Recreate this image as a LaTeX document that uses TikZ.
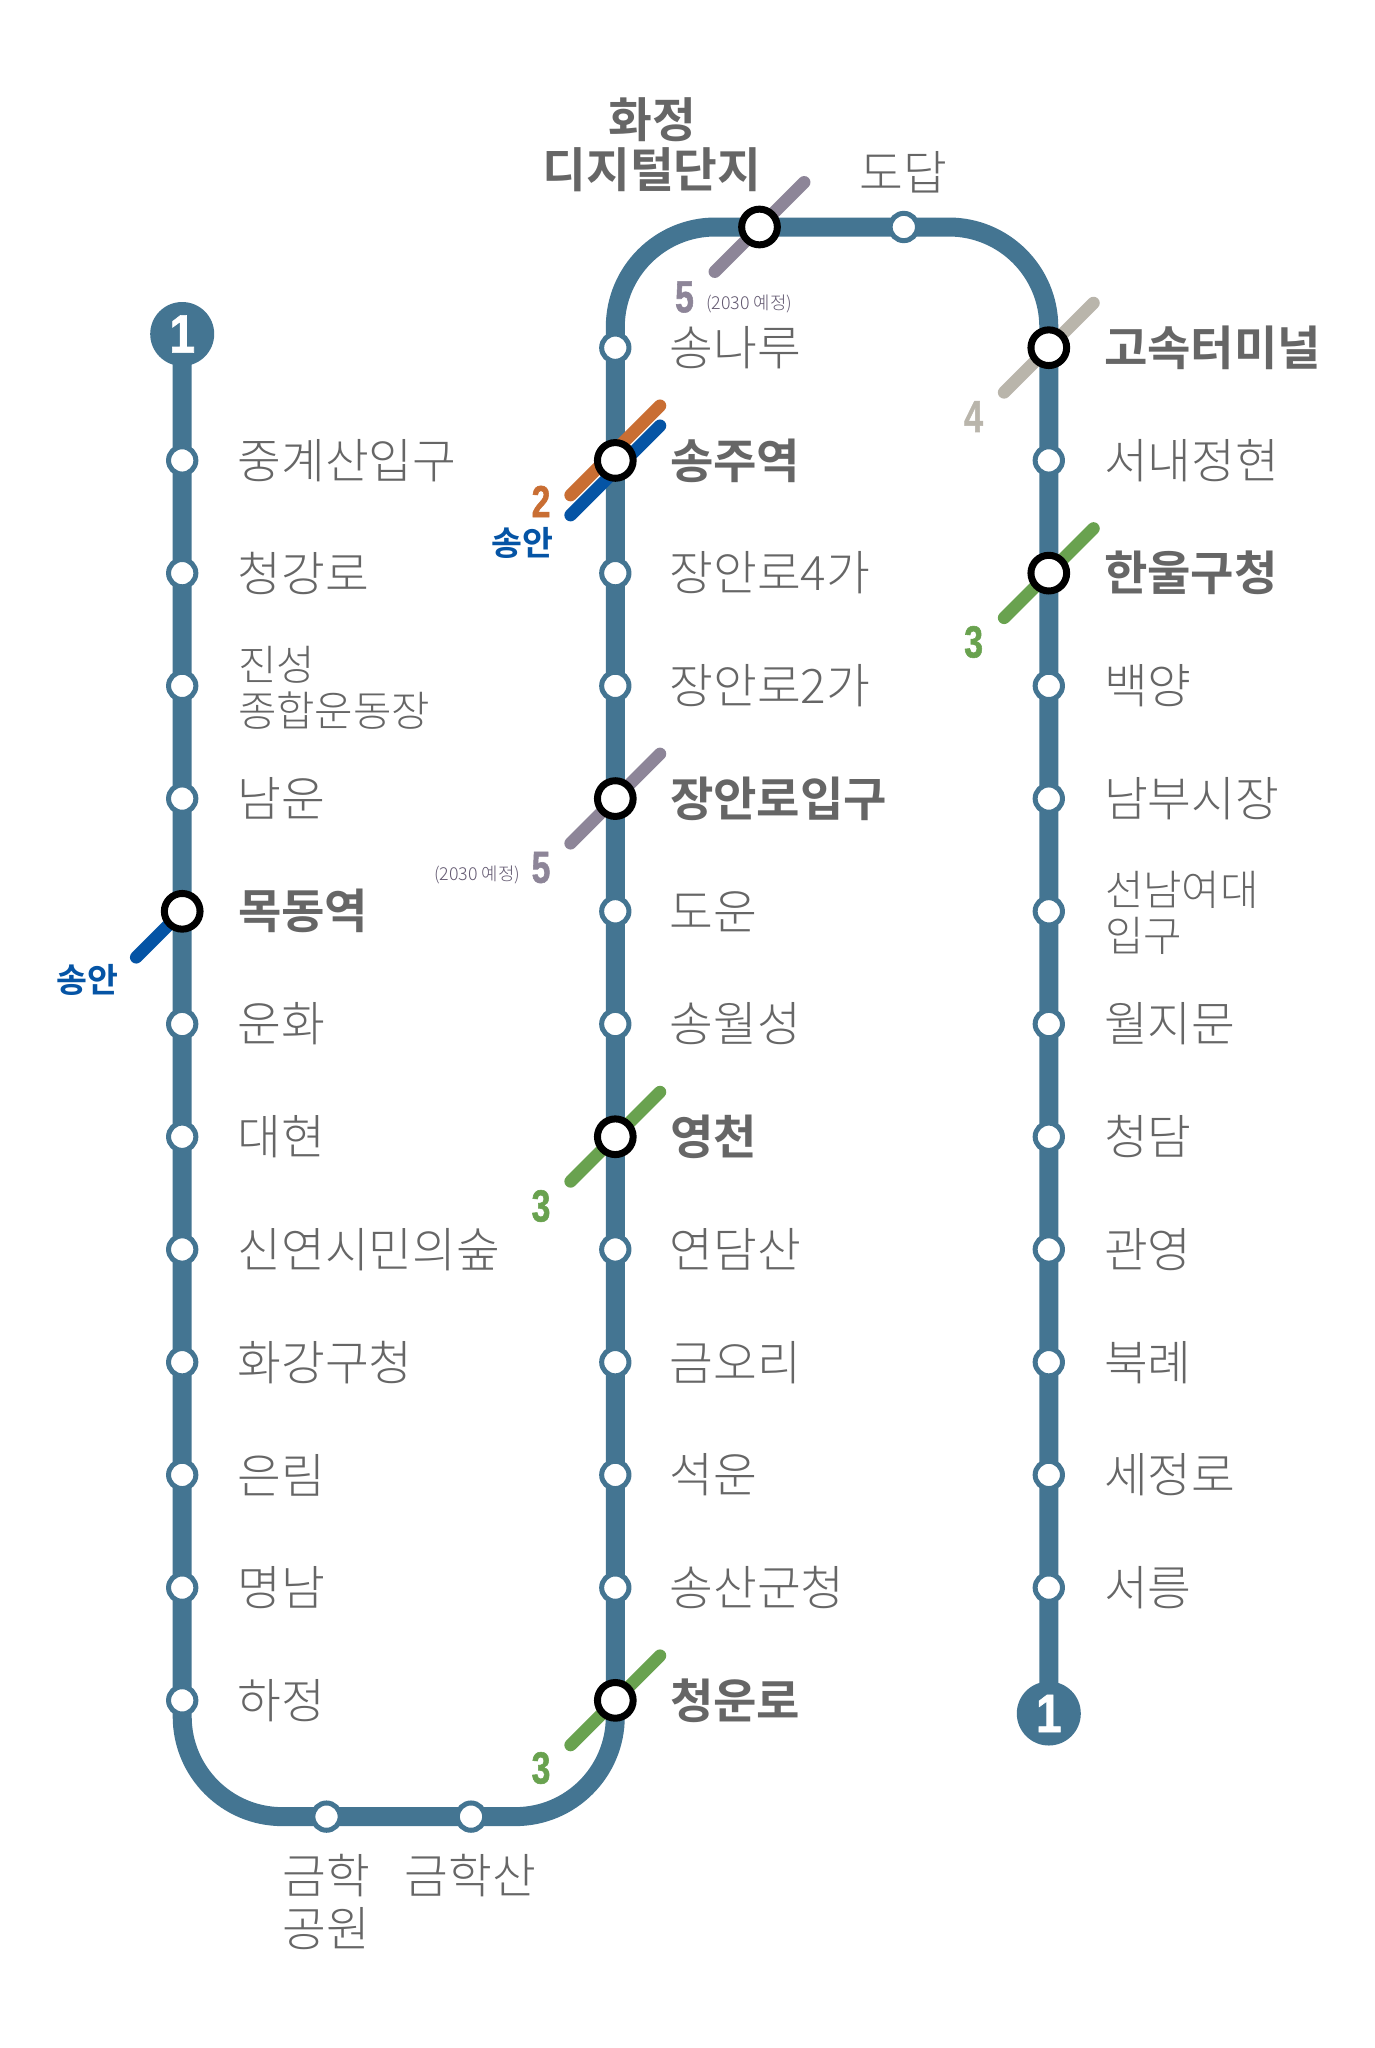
\documentclass[tikz,border=0pt]{standalone}
\usepackage{fontspec}
\usetikzlibrary{backgrounds,calc}
\setmainfont{Liberation Sans}
\newfontfamily\krlight{Noto Sans CJK KR Light}
\newfontfamily\krbold{Noto Sans CJK KR Bold}
\newfontfamily\numfont[FakeStretch=0.75,FakeBold=1.2]{Liberation Sans Bold}
\newfontfamily\termfont[FakeStretch=0.85,FakeBold=1.2]{Liberation Sans Bold}
\definecolor{linecol}{HTML}{447592}
\definecolor{textcol}{HTML}{666666}
\definecolor{orangec}{HTML}{C96E33}
\definecolor{bluec}{HTML}{0554A5}
\definecolor{purplec}{HTML}{8D8598}
\definecolor{beigec}{HTML}{B9B5AB}
\definecolor{greenc}{HTML}{69A24F}
\definecolor{smallc}{HTML}{625870}
\tikzset{
  x=1pt,y=-1pt,
  stn/.style={circle,draw=linecol,line width=5pt,fill=white,minimum size=27.3pt,inner sep=0pt,outer sep=0pt},
  xfer/.style={circle,draw=black,line width=7pt,fill=white,minimum size=35.7pt,inner sep=0pt,outer sep=0pt},
  term/.style={circle,fill=linecol,minimum size=64pt,inner sep=0pt,outer sep=0pt,text=white,font=\termfont\fontsize{54}{54}\selectfont},
  mainline/.style={draw=linecol,line width=19pt,rounded corners=100pt},
  diag/.style={line width=12.5pt,line cap=round},
  lab/.style={anchor=west,inner sep=0pt,outer sep=0pt,text=textcol,align=left,font=\krlight\fontsize{47.6}{46}\selectfont},
  blab/.style={lab,font=\krbold\fontsize{47.2}{46}\selectfont},
  tlab/.style={lab,yshift=-2pt,font=\krlight\fontsize{41.8}{46}\selectfont},
  clab/.style={inner sep=0pt,outer sep=0pt,text=textcol,align=center,font=\krlight\fontsize{47.6}{53}\selectfont},
  num/.style={inner sep=0pt,outer sep=0pt,font=\numfont\fontsize{45}{45}\selectfont},
  small/.style={inner sep=0pt,outer sep=0pt,text=smallc,font=\krlight\fontsize{17.8}{17.8}\selectfont},
  songan/.style={inner sep=0pt,outer sep=0pt,text=bluec,font=\krbold\fontsize{33.6}{33.6}\selectfont},
}
\begin{document}
\begin{tikzpicture}
\useasboundingbox (0,0) rectangle (1374,2048);
% terminals
\node[term] (termA) at (182.2,334) {1};
\node[term] (termB) at (1048.8,1713.5) {1};
% left column
\foreach \r/\t in {1/중계산입구,2/청강로,4/남운,6/운화,7/대현,8/신연시민의숲,9/화강구청,10/은림,11/명남,12/하정}{
  \node[stn] (L\r) at (182.2,{347.7+112.72*\r}) {};
  \node[lab] (Ll\r) at (237.5,{347.7+112.72*\r}) {\t};
}
\foreach \r/\t in {3/{진성\\종합운동장}}{
  \node[stn] (L\r) at (182.2,{347.7+112.72*\r}) {};
  \node[tlab] (Ll\r) at (238,{347.7+112.72*\r}) {\t};
}
\foreach \r/\t in {5/목동역}{
  \node[xfer] (L\r) at (182.2,{347.7+112.72*\r}) {};
  \node[blab] (Ll\r) at (238,{347.7+112.72*\r}) {\t};
}
% middle column
\foreach \r/\t in {0/송나루,2/장안로4가,3/장안로2가,5/도운,6/송월성,8/연담산,9/금오리,10/석운,11/송산군청}{
  \node[stn] (M\r) at (615.3,{347.7+112.72*\r}) {};
  \node[lab] (Ml\r) at (669.5,{347.7+112.72*\r}) {\t};
}
\foreach \r/\t in {1/송주역,4/장안로입구,7/영천,12/청운로}{
  \node[xfer] (M\r) at (615.3,{347.7+112.72*\r}) {};
  \node[blab] (Ml\r) at (670,{347.7+112.72*\r}) {\t};
}
% right column
\foreach \r/\t in {1/서내정현,3/백양,4/남부시장,6/월지문,7/청담,8/관영,9/북례,10/세정로,11/서릉}{
  \node[stn] (R\r) at (1048.8,{347.7+112.72*\r}) {};
  \node[lab] (Rl\r) at (1104,{347.7+112.72*\r}) {\t};
}
\foreach \r/\t in {5/{선남여대\\입구}}{
  \node[stn] (R\r) at (1048.8,{347.7+112.72*\r}) {};
  \node[tlab] (Rl\r) at (1105,{347.7+112.72*\r}) {\t};
}
\foreach \r/\t in {0/고속터미널,2/한울구청}{
  \node[xfer] (R\r) at (1048.8,{347.7+112.72*\r}) {};
  \node[blab] (Rl\r) at (1104,{347.7+112.72*\r}) {\t};
}
% top and bottom stations
\node[xfer] (T1) at (759.5,227) {};
\node[stn] (T2) at (903.8,227) {};
\node[stn] (B1) at (326.5,1816.6) {};
\node[stn] (B2) at (471,1816.6) {};
\node[blab,anchor=center,align=center,font=\krbold\fontsize{47.6}{50}\selectfont] (Tl1) at (652,145) {화정\\디지털단지};
\node[clab] (Tl2) at (903.5,172) {도답};
\node[clab] (Bl1) at (326,1902) {금학\\공원};
\node[clab] (Bl2) at (470.5,1876) {금학산};
% line numbers
\node[num,text=orangec] (n2) at (541,501.5) {2};
\node[songan] (s1) at (522,543) {송안};
\node[songan] (s2) at (87,980) {송안};
\node[num,text=purplec] (n5a) at (684.5,297) {5};
\node[small,anchor=west] (p5a) at (706,304) {(2030 예정)};
\node[num,text=purplec] (n5b) at (541,867.5) {5};
\node[small,anchor=east] (p5b) at (520,875) {(2030 예정)};
\node[num,text=greenc] (n3a) at (541,1206) {3};
\node[num,text=greenc] (n3b) at (541,1768) {3};
\node[num,text=greenc] (n3c) at (973.6,642) {3};
\node[num,text=beigec] (n4) at (973.6,416.5) {4};
\begin{pgfonlayer}{background}
  \fill[white] (0,0) rectangle (1374,2048);
  \coordinate (cBL) at (182.2,1816.6);
  \coordinate (cBR) at (615.3,1816.6);
  \coordinate (cTL) at (615.3,227);
  \coordinate (cTR) at (1048.8,227);
  \draw[mainline] (termA.center) -- (cBL) -- (cBR) -- (cTL) -- (cTR) -- (termB.center);
  \draw[diag,purplec] ([shift={(-44.7,44.7)}]T1.center) -- ([shift={(44.7,-44.7)}]T1.center);
  \draw[diag,beigec] ([shift={(-44.7,44.7)}]R0.center) -- ([shift={(44.7,-44.7)}]R0.center);
  \draw[diag,greenc] ([shift={(-44.7,44.7)}]R2.center) -- ([shift={(44.7,-44.7)}]R2.center);
  \draw[diag,orangec] ([shift={(-44.7,34.7)}]M1.center) -- ([shift={(44.7,-54.7)}]M1.center);
  \draw[diag,bluec] ([shift={(-44.7,54.7)}]M1.center) -- ([shift={(44.7,-34.7)}]M1.center);
  \draw[diag,purplec] ([shift={(-44.7,44.7)}]M4.center) -- ([shift={(44.7,-44.7)}]M4.center);
  \draw[diag,greenc] ([shift={(-44.7,44.7)}]M7.center) -- ([shift={(44.7,-44.7)}]M7.center);
  \draw[diag,greenc] ([shift={(-44.7,44.7)}]M12.center) -- ([shift={(44.7,-44.7)}]M12.center);
  \draw[diag,bluec] ([shift={(-46,46)}]L5.center) -- (L5.center);
\end{pgfonlayer}
\end{tikzpicture}
\end{document}
